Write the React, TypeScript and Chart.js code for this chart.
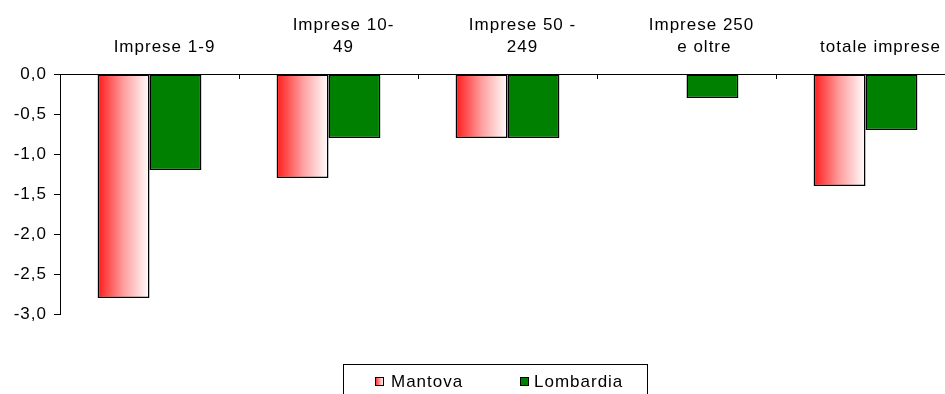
import { useEffect, useRef } from 'react';
import { Chart, registerables } from 'chart.js';
Chart.register(...registerables);

const categories: string[][] = [
  ['Imprese 1-9'],
  ['Imprese 10-', '49'],
  ['Imprese 50 -', '249'],
  ['Imprese 250', ' e oltre'],
  ['totale imprese'],
];
const seriesNames = ['Mantova', 'Lombardia'];
const mantova: (number | null)[] = [-2.8, -1.3, -0.8, null, -1.4];
const lombardia: number[] = [-1.2, -0.8, -0.8, -0.3, -0.7];
const yMin = -3;
const yMax = 0;
const yStep = 0.5;

const W = 955;
const H = 410;
const CAT_PCT = 0.58;
const FONT_FAMILY = '"Liberation Sans", Arial, sans-serif';
const FONT_SIZE = 17;
const LETTER_SPACING = '1px';
const GREEN = '#008000';

function redGradient(ctx: CanvasRenderingContext2D, left: number, right: number) {
  const g = ctx.createLinearGradient(left, 0, right, 0);
  g.addColorStop(0, '#ff1a1a');
  g.addColorStop(0.5, '#ff9e9e');
  g.addColorStop(1, '#ffffff');
  return g;
}

const letterSpacingPlugin = {
  id: 'letterSpacing',
  beforeUpdate(chart: any) {
    chart.ctx.letterSpacing = LETTER_SPACING;
  },
  beforeDraw(chart: any) {
    chart.ctx.letterSpacing = LETTER_SPACING;
  },
};

const extrasPlugin = {
  id: 'extras',
  afterDraw(chart: any) {
    const ctx: CanvasRenderingContext2D = chart.ctx;
    const xs = chart.scales.x;
    const n = categories.length;
    const step = xs.width / n;
    ctx.save();
    ctx.strokeStyle = '#000';
    ctx.lineWidth = 1;
    for (let i = 1; i < n; i++) {
      const x = Math.round(xs.left + step * i) + 0.5;
      ctx.beginPath();
      ctx.moveTo(x, xs.bottom);
      ctx.lineTo(x, xs.bottom + 5);
      ctx.stroke();
    }
    // legend
    const bx = 343.5, by = 364.5, bw = 304, bh = 40;
    ctx.strokeStyle = '#000';
    ctx.lineWidth = 1;
    ctx.strokeRect(bx, by, bw, bh);
    ctx.font = `${FONT_SIZE}px ${FONT_FAMILY}`;
    ctx.textBaseline = 'middle';
    ctx.textAlign = 'left';
    ctx.fillStyle = '#000';
    const items = [
      { sx: 375, tx: 391, fill: redGradient(ctx, 375, 384) as any },
      { sx: 520, tx: 534, fill: GREEN as any },
    ];
    items.forEach((it, i) => {
      ctx.fillStyle = it.fill;
      ctx.fillRect(it.sx, 377, 9, 9);
      ctx.strokeStyle = '#000';
      ctx.strokeRect(it.sx + 0.5, 377.5, 8, 8);
      ctx.fillStyle = '#000';
      ctx.fillText(seriesNames[i], it.tx, 382);
    });
    ctx.restore();
  },
};

export default function App() {
  const ref = useRef<HTMLCanvasElement>(null);
  useEffect(() => {
    if (!ref.current) return;
    const chart = new Chart(ref.current, {
      type: 'bar',
      data: {
        labels: categories,
        datasets: [
          {
            label: seriesNames[0],
            data: mantova,
            backgroundColor: (c: any) => {
              const ch = c.chart;
              const xs = ch.scales?.x;
              if (!xs || !ch.chartArea || c.dataIndex === undefined) return '#ff8080';
              const center = xs.getPixelForValue(c.dataIndex);
              const half = ((xs.width / categories.length) * CAT_PCT) / 2;
              return redGradient(ch.ctx, center - half, center);
            },
            borderColor: '#000',
            borderWidth: 1.5,
            borderSkipped: false,
          },
          {
            label: seriesNames[1],
            data: lombardia,
            backgroundColor: GREEN,
            borderColor: '#000',
            borderWidth: 1.5,
            borderSkipped: false,
          },
        ],
      },
      options: {
        responsive: false,
        animation: false,
        devicePixelRatio: 1,
        layout: { padding: { top: 0, left: 0, right: 0, bottom: H - 314 } },
        datasets: { bar: { categoryPercentage: CAT_PCT, barPercentage: 1 } },
        plugins: {
          legend: { display: false },
          tooltip: { enabled: false },
        },
        scales: {
          x: {
            position: 'top',
            grid: { display: false, drawTicks: false },
            border: { display: true, color: '#000', width: 1 },
            ticks: {
              color: '#000',
              padding: 16,
              labelOffset: 15,
              maxRotation: 0,
              autoSkip: false,
              font: { family: FONT_FAMILY, size: FONT_SIZE, lineHeight: 1.3 },
            },
            afterFit: (s: any) => {
              s.height = 74;
            },
          },
          y: {
            min: yMin,
            max: yMax,
            grid: { drawOnChartArea: false, drawTicks: true, tickLength: 6, color: '#000' },
            border: { display: true, color: '#000', width: 1 },
            ticks: {
              stepSize: yStep,
              color: '#000',
              padding: 7,
              font: { family: FONT_FAMILY, size: FONT_SIZE },
              callback: (v: any) => Number(v).toFixed(1).replace('.', ',').replace('-0,0', '0,0'),
            },
            afterFit: (s: any) => {
              s.width = 60;
            },
          },
        },
      },
      plugins: [letterSpacingPlugin, extrasPlugin],
    });
    return () => chart.destroy();
  }, []);
  return (
    <div style={{ position: 'absolute', left: 0, top: 0, width: 945, height: 394, overflow: 'hidden', background: '#fff' }}>
      <canvas ref={ref} width={W} height={H} style={{ display: 'block' }} />
    </div>
  );
}
